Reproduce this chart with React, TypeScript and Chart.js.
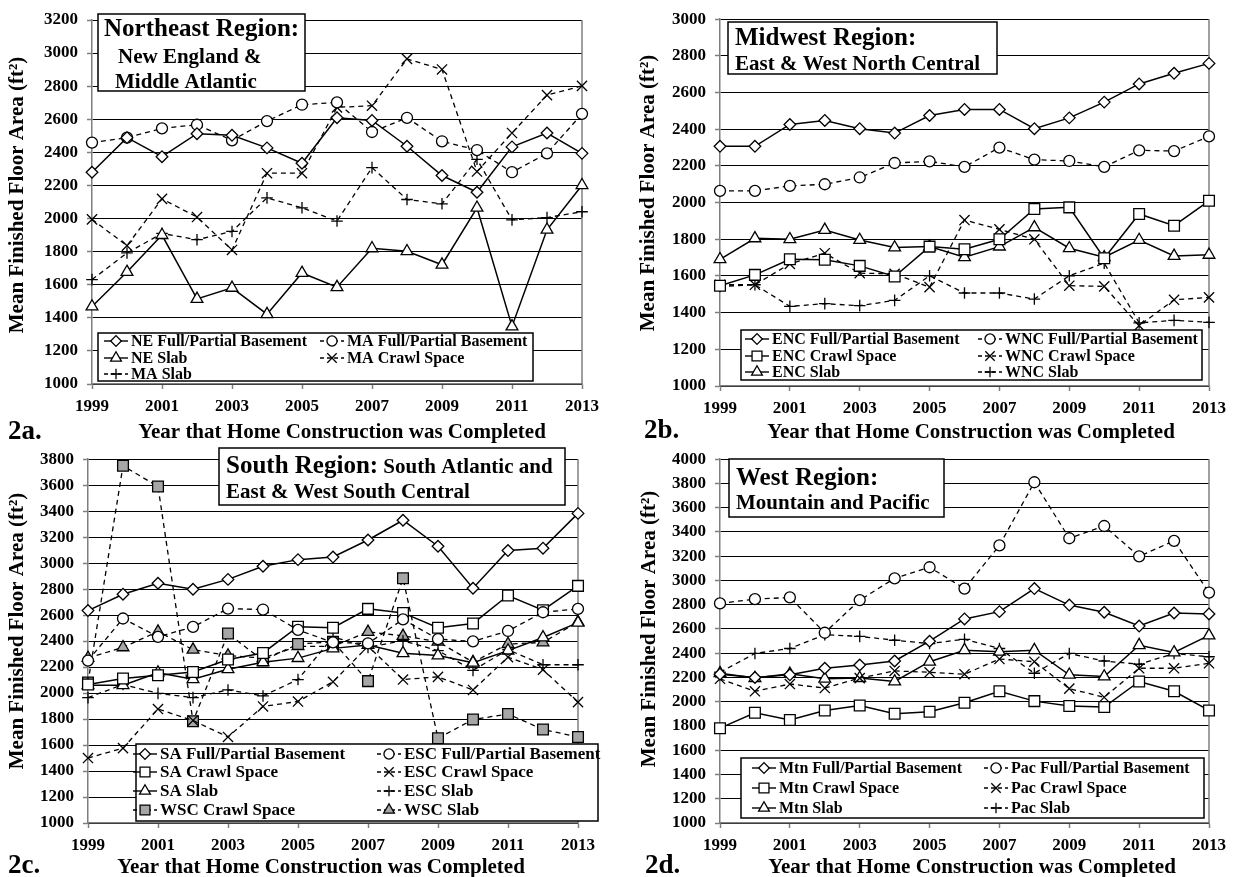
import React, { useEffect, useRef } from "react";
import { Chart, registerables } from "chart.js";
import { drawPoint } from "chart.js/helpers";

Chart.register(...registerables);

const FONT = '"Liberation Serif", "Times New Roman", Times, serif';

// ---------------- data ----------------
const years = [1999, 2000, 2001, 2002, 2003, 2004, 2005, 2006, 2007, 2008, 2009, 2010, 2011, 2012, 2013];
const xTickYears = [1999, 2001, 2003, 2005, 2007, 2009, 2011, 2013];

const neYTicks = [1000, 1200, 1400, 1600, 1800, 2000, 2200, 2400, 2600, 2800, 3000, 3200];
const mwYTicks = [1000, 1200, 1400, 1600, 1800, 2000, 2200, 2400, 2600, 2800, 3000];
const soYTicks = [1000, 1200, 1400, 1600, 1800, 2000, 2200, 2400, 2600, 2800, 3000, 3200, 3400, 3600, 3800];
const weYTicks = [1000, 1200, 1400, 1600, 1800, 2000, 2200, 2400, 2600, 2800, 3000, 3200, 3400, 3600, 3800, 4000];

// 2a Northeast
const neBasement = [2280, 2489, 2374, 2513, 2503, 2427, 2334, 2609, 2593, 2437, 2260, 2159, 2433, 2517, 2394];
const maBasement = [2459, 2489, 2545, 2567, 2473, 2589, 2688, 2702, 2523, 2609, 2467, 2414, 2280, 2394, 2633];
const neSlab = [1468, 1677, 1900, 1514, 1581, 1422, 1671, 1585, 1820, 1802, 1721, 2065, 1348, 1932, 2201];
const maCrawl = [1995, 1836, 2119, 2009, 1810, 2274, 2274, 2672, 2682, 2965, 2901, 2284, 2517, 2746, 2802];
const maSlab = [1631, 1792, 1910, 1872, 1922, 2125, 2065, 1985, 2308, 2115, 2089, 2358, 1992, 2006, 2041];

// 2b Midwest
const encBasement = [2307, 2307, 2426, 2448, 2403, 2379, 2475, 2508, 2508, 2403, 2462, 2548, 2647, 2705, 2759];
const wncBasement = [2064, 2064, 2091, 2100, 2137, 2216, 2225, 2195, 2300, 2234, 2227, 2195, 2285, 2281, 2361];
const encCrawl = [1547, 1606, 1691, 1688, 1655, 1597, 1760, 1746, 1800, 1965, 1974, 1697, 1938, 1874, 2010];
const wncCrawl = [1552, 1552, 1666, 1724, 1615, 1612, 1539, 1905, 1854, 1800, 1547, 1543, 1329, 1470, 1483];
const encSlab = [1691, 1805, 1800, 1851, 1796, 1755, 1760, 1702, 1760, 1865, 1751, 1702, 1796, 1709, 1715];
const wncSlab = [1543, 1552, 1434, 1449, 1438, 1467, 1601, 1507, 1507, 1474, 1601, 1670, 1344, 1358, 1347];

// 2c South
const saBasement = [2635, 2761, 2845, 2799, 2875, 2976, 3027, 3047, 3178, 3330, 3130, 2807, 3097, 3115, 3383];
const escBasement = [2250, 2574, 2433, 2509, 2650, 2643, 2486, 2390, 2382, 2567, 2415, 2398, 2478, 2622, 2648];
const saCrawl = [2066, 2112, 2137, 2162, 2259, 2309, 2511, 2503, 2648, 2617, 2503, 2536, 2751, 2638, 2825];
const escCrawl = [1500, 1576, 1877, 1789, 1662, 1897, 1935, 2087, 2360, 2104, 2125, 2024, 2276, 2180, 1930];
const saSlab = [2061, 2061, 2157, 2107, 2183, 2238, 2269, 2344, 2370, 2307, 2289, 2233, 2327, 2428, 2542];
const escSlab = [1965, 2066, 1998, 1965, 2024, 1978, 2104, 2433, 2352, 2403, 2327, 2175, 2334, 2218, 2218];
const wscCrawl = [2082, 3749, 3590, 1783, 2458, 2251, 2377, 2395, 2092, 2883, 1652, 1796, 1839, 1720, 1662];
const wscSlab = [2270, 2352, 2473, 2334, 2289, 2269, 2360, 2360, 2471, 2440, 2395, 2238, 2377, 2390, 2547];

// 2d West
const mtnBasement = [2227, 2200, 2222, 2276, 2303, 2336, 2499, 2683, 2743, 2933, 2797, 2738, 2624, 2732, 2724];
const pacBasement = [2811, 2846, 2860, 2569, 2838, 3017, 3109, 2933, 3289, 3810, 3348, 3449, 3199, 3327, 2900];
const mtnCrawl = [1782, 1909, 1850, 1928, 1969, 1901, 1918, 1991, 2086, 2005, 1964, 1956, 2167, 2086, 1928];
const pacCrawl = [2189, 2086, 2146, 2113, 2195, 2254, 2243, 2227, 2352, 2330, 2108, 2037, 2276, 2276, 2317];
const mtnSlab = [2235, 2195, 2230, 2189, 2195, 2167, 2330, 2425, 2412, 2425, 2222, 2208, 2466, 2406, 2547];
const pacSlab = [2243, 2398, 2439, 2553, 2539, 2507, 2480, 2515, 2439, 2235, 2398, 2336, 2309, 2398, 2371];

// ---------------- styling / layout ----------------
type Marker = "rectRot" | "circle" | "rect" | "triangle" | "crossRot" | "cross";
interface Series { label: string; data: number[]; dashed: boolean; marker: Marker; fill?: string }
interface TextPart { text: string; size: number }
interface Panel {
  key: string;
  box: [number, number, number, number];
  area: [number, number, number, number];
  yTicks: number[];
  series: Series[];
  titleBox: [number, number, number, number];
  titleLines: { x: number; y: number; parts: TextPart[] }[];
  legendBox: [number, number, number, number];
  legendRows: number[];
  legendCols: number[];
  legendFont: number;
  tag: { text: string; x: number; y: number };
  xTitle: { x: number; y: number };
  yTitle: { x: number; y: number };
}

const RADIUS: Record<Marker, number> = { rectRot: 5.8, circle: 5.5, rect: 7.6, triangle: 6.8, crossRot: 7.2, cross: 5.8 };
const GRAY = "#a6a6a6";
const AXIS = "#7f7f7f";

const panels: Panel[] = [
  {
    key: "a",
    box: [0, 0, 616, 450],
    area: [92, 20, 582, 384],
    yTicks: neYTicks,
    series: [
      { label: "NE Full/Partial Basement", data: neBasement, dashed: false, marker: "rectRot" },
      { label: "MA Full/Partial Basement", data: maBasement, dashed: true, marker: "circle" },
      { label: "NE Slab", data: neSlab, dashed: false, marker: "triangle" },
      { label: "MA Crawl Space", data: maCrawl, dashed: true, marker: "crossRot" },
      { label: "MA Slab", data: maSlab, dashed: true, marker: "cross" },
    ],
    titleBox: [98, 14, 305, 91],
    titleLines: [
      { x: 104, y: 36, parts: [{ text: "Northeast Region:", size: 25 }] },
      { x: 118, y: 63, parts: [{ text: "New England &", size: 21 }] },
      { x: 115, y: 88, parts: [{ text: "Middle Atlantic", size: 21 }] },
    ],
    legendBox: [98, 333, 533, 381],
    legendRows: [341, 358, 374],
    legendCols: [131, 347],
    legendFont: 16,
    tag: { text: "2a.", x: 8, y: 439 },
    xTitle: { x: 342, y: 438 },
    yTitle: { x: 18, y: 195 },
  },
  {
    key: "b",
    box: [616, 0, 617, 450],
    area: [720, 19, 1209, 386],
    yTicks: mwYTicks,
    series: [
      { label: "ENC Full/Partial Basement", data: encBasement, dashed: false, marker: "rectRot" },
      { label: "WNC Full/Partial Basement", data: wncBasement, dashed: true, marker: "circle" },
      { label: "ENC Crawl Space", data: encCrawl, dashed: false, marker: "rect" },
      { label: "WNC Crawl Space", data: wncCrawl, dashed: true, marker: "crossRot" },
      { label: "ENC Slab", data: encSlab, dashed: false, marker: "triangle" },
      { label: "WNC Slab", data: wncSlab, dashed: true, marker: "cross" },
    ],
    titleBox: [728, 22, 997, 74],
    titleLines: [
      { x: 735, y: 45, parts: [{ text: "Midwest Region:", size: 25 }] },
      { x: 735, y: 70, parts: [{ text: "East & West North Central", size: 21 }] },
    ],
    legendBox: [741, 330, 1202, 380],
    legendRows: [339, 356, 372],
    legendCols: [772, 1005],
    legendFont: 16,
    tag: { text: "2b.", x: 644, y: 438 },
    xTitle: { x: 971, y: 438 },
    yTitle: { x: 649, y: 193 },
  },
  {
    key: "c",
    box: [0, 440, 616, 437],
    area: [88, 454, 578, 823],
    yTicks: soYTicks,
    series: [
      { label: "SA Full/Partial Basement", data: saBasement, dashed: false, marker: "rectRot" },
      { label: "ESC Full/Partial Basement", data: escBasement, dashed: true, marker: "circle" },
      { label: "SA Crawl Space", data: saCrawl, dashed: false, marker: "rect" },
      { label: "ESC Crawl Space", data: escCrawl, dashed: true, marker: "crossRot" },
      { label: "SA Slab", data: saSlab, dashed: false, marker: "triangle" },
      { label: "ESC Slab", data: escSlab, dashed: true, marker: "cross" },
      { label: "WSC Crawl Space", data: wscCrawl, dashed: true, marker: "rect", fill: GRAY },
      { label: "WSC Slab", data: wscSlab, dashed: true, marker: "triangle", fill: GRAY },
    ],
    titleBox: [219, 448, 565, 505],
    titleLines: [
      { x: 226, y: 473, parts: [{ text: "South Region:", size: 25 }, { text: " South Atlantic and", size: 21 }] },
      { x: 226, y: 498, parts: [{ text: "East & West South Central", size: 21 }] },
    ],
    legendBox: [136, 744, 598, 821],
    legendRows: [754, 772, 791, 810],
    legendCols: [160, 404],
    legendFont: 17,
    tag: { text: "2c.", x: 8, y: 873 },
    xTitle: { x: 321, y: 873 },
    yTitle: { x: 18, y: 631 },
  },
  {
    key: "d",
    box: [616, 440, 617, 437],
    area: [720, 455, 1209, 823],
    yTicks: weYTicks,
    series: [
      { label: "Mtn Full/Partial Basement", data: mtnBasement, dashed: false, marker: "rectRot" },
      { label: "Pac Full/Partial Basement", data: pacBasement, dashed: true, marker: "circle" },
      { label: "Mtn Crawl Space", data: mtnCrawl, dashed: false, marker: "rect" },
      { label: "Pac Crawl Space", data: pacCrawl, dashed: true, marker: "crossRot" },
      { label: "Mtn Slab", data: mtnSlab, dashed: false, marker: "triangle" },
      { label: "Pac Slab", data: pacSlab, dashed: true, marker: "cross" },
    ],
    titleBox: [729, 459, 944, 517],
    titleLines: [
      { x: 736, y: 485, parts: [{ text: "West Region:", size: 25 }] },
      { x: 736, y: 509, parts: [{ text: "Mountain and Pacific", size: 21 }] },
    ],
    legendBox: [741, 758, 1204, 818],
    legendRows: [768, 788, 808],
    legendCols: [779, 1011],
    legendFont: 16,
    tag: { text: "2d.", x: 645, y: 873 },
    xTitle: { x: 972, y: 873 },
    yTitle: { x: 650, y: 629 },
  },
];

const X_TITLE = "Year that Home Construction was Completed";
const Y_TITLE = "Mean Finished Floor Area (ft\u00B2)";
const DASH = [5, 4];

function overlayPlugin(p: Panel) {
  const ox = p.box[0];
  const oy = p.box[1];
  return {
    id: "overlay_" + p.key,
    beforeDatasetsDraw(chart: any) {
      const { ctx, chartArea: a } = chart;
      ctx.save();
      ctx.strokeStyle = AXIS;
      ctx.lineWidth = 1.5;
      ctx.beginPath();
      ctx.moveTo(a.right, a.top);
      ctx.lineTo(a.right, a.bottom);
      ctx.stroke();
      ctx.restore();
    },
    afterDatasetsDraw(chart: any) {
      const ctx: CanvasRenderingContext2D = chart.ctx;
      ctx.save();
      // title box
      const [tx0, ty0, tx1, ty1] = p.titleBox;
      ctx.fillStyle = "#fff";
      ctx.fillRect(tx0 - ox, ty0 - oy, tx1 - tx0, ty1 - ty0);
      ctx.strokeStyle = "#000";
      ctx.lineWidth = 1.5;
      ctx.strokeRect(tx0 - ox, ty0 - oy, tx1 - tx0, ty1 - ty0);
      ctx.fillStyle = "#000";
      ctx.textAlign = "left";
      ctx.textBaseline = "alphabetic";
      for (const line of p.titleLines) {
        let x = line.x - ox;
        for (const part of line.parts) {
          ctx.font = `bold ${part.size}px ${FONT}`;
          ctx.fillText(part.text, x, line.y - oy);
          x += ctx.measureText(part.text).width;
        }
      }
      // legend box
      const [lx0, ly0, lx1, ly1] = p.legendBox;
      ctx.fillStyle = "#fff";
      ctx.fillRect(lx0 - ox, ly0 - oy, lx1 - lx0, ly1 - ly0);
      ctx.strokeStyle = "#000";
      ctx.lineWidth = 1.5;
      ctx.strokeRect(lx0 - ox, ly0 - oy, lx1 - lx0, ly1 - ly0);
      ctx.font = `bold ${p.legendFont}px ${FONT}`;
      ctx.textBaseline = "middle";
      p.series.forEach((s, i) => {
        const tx = p.legendCols[i % 2] - ox;
        const ty = p.legendRows[Math.floor(i / 2)] - oy;
        ctx.strokeStyle = "#000";
        ctx.lineWidth = 1.4;
        ctx.setLineDash(s.dashed ? [4, 3] : []);
        ctx.beginPath();
        ctx.moveTo(tx - 27, ty);
        ctx.lineTo(tx - 3, ty);
        ctx.stroke();
        ctx.setLineDash([]);
        ctx.fillStyle = s.fill || "#fff";
        ctx.lineWidth = 1.3;
        drawPoint(ctx, { pointStyle: s.marker, radius: RADIUS[s.marker] * 0.92, rotation: 0, borderWidth: 1.3 } as any, tx - 15, ty);
        ctx.fillStyle = "#000";
        ctx.fillText(s.label, tx, ty + 1);
      });
      ctx.restore();
    },
    afterDraw(chart: any) {
      const ctx: CanvasRenderingContext2D = chart.ctx;
      ctx.save();
      ctx.fillStyle = "#000";
      ctx.textBaseline = "alphabetic";
      ctx.textAlign = "left";
      ctx.font = `bold 27px ${FONT}`;
      ctx.fillText(p.tag.text, p.tag.x - ox, p.tag.y - oy);
      ctx.textAlign = "center";
      ctx.font = `bold 21px ${FONT}`;
      ctx.fillText(X_TITLE, p.xTitle.x - ox, p.xTitle.y - oy);
      ctx.translate(p.yTitle.x - ox, p.yTitle.y - oy);
      ctx.rotate(-Math.PI / 2);
      ctx.textBaseline = "middle";
      ctx.fillText(Y_TITLE, 0, 0);
      ctx.restore();
    },
  };
}

function PanelChart({ p }: { p: Panel }) {
  const ref = useRef<HTMLCanvasElement>(null);
  const [bx, by, bw, bh] = p.box;
  useEffect(() => {
    const canvas = ref.current;
    if (!canvas) return;
    const [L, T, R, B] = p.area;
    const XH = 30;
    const tickFont = { family: FONT, size: 17, weight: "bold" as const };
    const datasets = p.series.map((s) => ({
      label: s.label,
      data: years.map((x, i) => ({ x, y: s.data[i] })),
      borderColor: "#000",
      borderWidth: s.dashed ? 1.3 : 1.5,
      borderDash: s.dashed ? DASH : [],
      pointStyle: s.marker,
      pointRadius: RADIUS[s.marker],
      pointHoverRadius: RADIUS[s.marker],
      pointBorderWidth: 1.3,
      pointBorderColor: "#000",
      pointBackgroundColor: s.fill || "#fff",
      tension: 0,
      fill: false,
      clip: false as any,
    }));
    const chart = new Chart(canvas, {
      type: "line",
      data: { datasets },
      options: {
        animation: false,
        responsive: false,
        maintainAspectRatio: false,
        devicePixelRatio: 1,
        events: [],
        layout: { padding: { left: 0, top: T - by, right: bx + bw - R, bottom: by + bh - B - XH } },
        plugins: { legend: { display: false }, tooltip: { enabled: false }, title: { display: false } },
        scales: {
          x: {
            type: "linear",
            min: years[0],
            max: years[years.length - 1],
            afterBuildTicks: (s: any) => {
              s.ticks = xTickYears.map((v) => ({ value: v }));
            },
            afterFit: (s: any) => {
              s.height = XH;
            },
            ticks: { callback: (v: any) => String(v), color: "#000", font: tickFont, padding: 7, maxRotation: 0, autoSkip: false },
            grid: { drawOnChartArea: false, drawTicks: true, tickLength: 5, tickColor: AXIS, tickWidth: 1.5 },
            border: { display: true, color: AXIS, width: 1.5 },
          },
          y: {
            type: "linear",
            min: p.yTicks[0],
            max: p.yTicks[p.yTicks.length - 1],
            afterBuildTicks: (s: any) => {
              s.ticks = p.yTicks.map((v) => ({ value: v }));
            },
            afterFit: (s: any) => {
              s.width = L - bx;
            },
            ticks: { callback: (v: any) => String(v), color: "#000", font: tickFont, padding: 9, autoSkip: false },
            grid: { color: "#000", lineWidth: 1, drawTicks: true, tickLength: 5, tickColor: AXIS, tickWidth: 1.5 },
            border: { display: true, color: AXIS, width: 1.5 },
          },
        },
      } as any,
      plugins: [overlayPlugin(p)],
    });
    return () => chart.destroy();
  }, [p]);
  return (
    <canvas
      ref={ref}
      width={bw}
      height={bh}
      style={{ position: "absolute", left: bx, top: by, width: bw, height: bh }}
    />
  );
}

export default function App() {
  return (
    <div style={{ position: "absolute", left: 0, top: 0, width: 1233, height: 877, background: "#fff", overflow: "hidden" }}>
      {panels.map((p) => (
        <PanelChart key={p.key} p={p} />
      ))}
    </div>
  );
}
